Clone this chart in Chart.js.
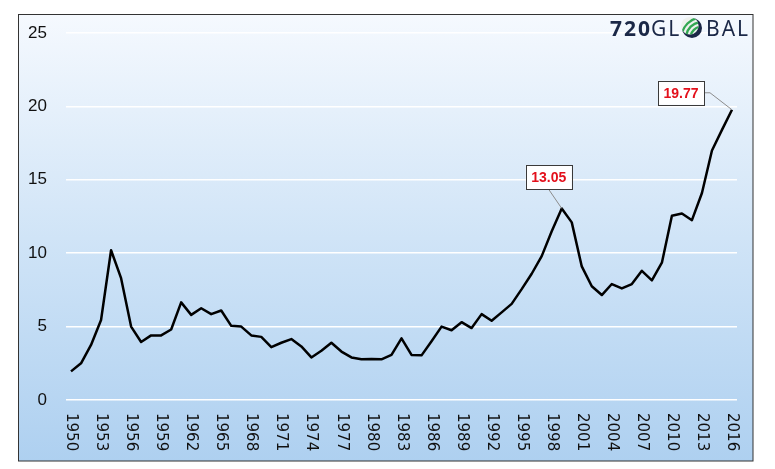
<!DOCTYPE html>
<html>
<head>
<meta charset="utf-8">
<script src="https://cdn.jsdelivr.net/npm/chart.js@4.4.0/dist/chart.umd.min.js"></script>
<style>
  body { margin: 0; background: #fff; }
  #wrap { width: 775px; height: 469px; }
</style>
</head>
<body>
<div id="wrap"><canvas id="myChart" width="775" height="469"></canvas></div>
<script>

var years = [];
for (var y = 1950; y <= 2016; y++) { years.push(String(y)); }

var values = [
  1.95, 2.5, 3.75, 5.45, 10.2, 8.3, 5.0, 3.95, 4.4, 4.4,
  4.8, 6.65, 5.8, 6.25, 5.85, 6.1, 5.05, 5.0, 4.4, 4.3,
  3.6, 3.9, 4.15, 3.65, 2.9, 3.35, 3.9, 3.3, 2.9, 2.77,
  2.8, 2.77, 3.07, 4.2, 3.07, 3.04, 4.0, 5.0, 4.75, 5.3,
  4.9, 5.85, 5.4, 5.97, 6.55, 7.55, 8.6, 9.8, 11.5, 13.05,
  12.1, 9.1, 7.75, 7.15, 7.9, 7.6, 7.9, 8.8, 8.15, 9.35,
  12.55, 12.7, 12.25, 14.1, 17.0, 18.4, 19.77
];

// every third year gets a label, like the original
var tickYears = [];
for (var t = 1950; t <= 2016; t += 3) { tickYears.push(String(t)); }

var calloutYears = ["1999", "2016"];
var yTicks = [0, 5, 10, 15, 20, 25];

function drawGlobe(ctx, gx, gy, gr) {
  ctx.save();
  ctx.beginPath();
  ctx.arc(gx, gy, gr, 0, Math.PI * 2);
  ctx.fillStyle = '#1b2847';
  ctx.fill();
  ctx.beginPath();
  ctx.arc(gx - 2.2, gy - 2.2, gr - 1.2, 0, Math.PI * 2);
  ctx.fillStyle = '#eef1ee';
  ctx.fill();
  ctx.clip();
  ctx.strokeStyle = '#33a852';
  ctx.lineWidth = 2.4;
  for (var k = 0; k < 4; k++) {
    ctx.beginPath();
    ctx.arc(gx + 10, gy + 10, 7 + k * 4.5, Math.PI, Math.PI * 1.5);
    ctx.stroke();
  }
  ctx.restore();
}

var framePlugin = {
  id: 'frame',
  beforeDraw: function(chart) {
    var ctx = chart.ctx;
    ctx.save();
    ctx.fillStyle = '#ffffff';
    ctx.fillRect(0, 0, chart.width, chart.height);
    var grad = ctx.createLinearGradient(0, 15, 0, 461);
    grad.addColorStop(0, '#f5f9fe');
    grad.addColorStop(0.5, '#d0e4f7');
    grad.addColorStop(1, '#aed0f0');
    ctx.fillStyle = grad;
    ctx.fillRect(18.5, 14.5, 734.5, 446.5);
    ctx.strokeStyle = '#333333';
    ctx.lineWidth = 1;
    ctx.strokeRect(18.5, 14.5, 734.5, 446.5);
    ctx.restore();
  },
  afterDraw: function(chart) {
    var ctx = chart.ctx;
    var xs = chart.scales.x;
    var ys = chart.scales.y;
    ctx.save();

    // x labels, rotated clockwise
    ctx.fillStyle = '#111111';
    ctx.font = '15px "DejaVu Sans"';
    ctx.textAlign = 'left';
    ctx.textBaseline = 'middle';
    tickYears.forEach(function(lbl) {
      var px = xs.getPixelForValue(years.indexOf(lbl));
      ctx.save();
      ctx.translate(px, 413);
      ctx.rotate(Math.PI / 2);
      ctx.fillText(lbl, 0, 0);
      ctx.restore();
    });

    // callouts
    calloutYears.forEach(function(yr, i) {
      var idx = years.indexOf(yr);
      var px = xs.getPixelForValue(idx);
      var py = ys.getPixelForValue(values[idx]);
      var bw = 46, bh = 24;
      var cx, cy;
      ctx.strokeStyle = '#8c8c8c';
      ctx.lineWidth = 1;
      ctx.beginPath();
      if (i == 0) {
        cx = px - 13; cy = py - 31;
        ctx.moveTo(cx, cy + bh / 2);
        ctx.lineTo(px, py);
      } else {
        cx = px - 51; cy = py - 17;
        ctx.moveTo(cx + bw / 2, cy);
        ctx.lineTo(cx + bw / 2 + 6, cy);
        ctx.lineTo(px, py);
      }
      ctx.stroke();
      ctx.fillStyle = '#ffffff';
      ctx.fillRect(cx - bw / 2, cy - bh / 2, bw, bh);
      ctx.strokeStyle = '#3a3a3a';
      ctx.strokeRect(Math.round(cx - bw / 2) + 0.5, Math.round(cy - bh / 2) + 0.5, bw, bh);
      ctx.fillStyle = '#e3101b';
      ctx.font = 'bold 14px "Liberation Sans"';
      ctx.textAlign = 'center';
      ctx.textBaseline = 'middle';
      ctx.fillText(values[idx].toFixed(2), cx, cy + 1);
    });

    // logo
    ctx.fillStyle = '#1b2847';
    ctx.textAlign = 'left';
    ctx.textBaseline = 'alphabetic';
    ctx.letterSpacing = '2px';
    ctx.font = 'bold 21px "Noto Sans"';
    ctx.fillText('720', 610, 36);
    ctx.font = '21px "Noto Sans"';
    ctx.fillText('GL', 651, 36);
    ctx.fillText('BAL', 706, 36);
    ctx.letterSpacing = '0px';
    drawGlobe(ctx, 692, 28, 10);

    ctx.restore();
  }
};

var ctx = document.getElementById('myChart');

var myLineChart = new Chart(ctx, {
  type: 'line',
  data: {
    labels: years,
    datasets: [{
      data: values,
      borderColor: '#000000',
      borderWidth: 2.5,
      pointRadius: 0,
      tension: 0,
      fill: false,
      borderJoinStyle: 'round'
    }]
  },
  options: {
    responsive: false,
    animation: false,
    layout: { padding: { left: 0, right: 38, top: 33, bottom: 69 } },
    plugins: { legend: { display: false }, tooltip: { enabled: false } },
    scales: {
      x: {
        display: false,
        offset: true
      },
      y: {
        min: 0,
        max: 25,
        afterFit: function(scale) { scale.width = 66; },
        afterBuildTicks: function(scale) {
          scale.ticks = yTicks.map(function(v) { return { value: v }; });
        },
        grid: { color: '#ffffff', lineWidth: 1.5, drawTicks: false },
        border: { display: false },
        ticks: {
          padding: 19,
          color: '#111111',
          font: { family: 'Liberation Sans', size: 17 }
        }
      }
    }
  },
  plugins: [framePlugin]
});

</script>
</body>
</html>
